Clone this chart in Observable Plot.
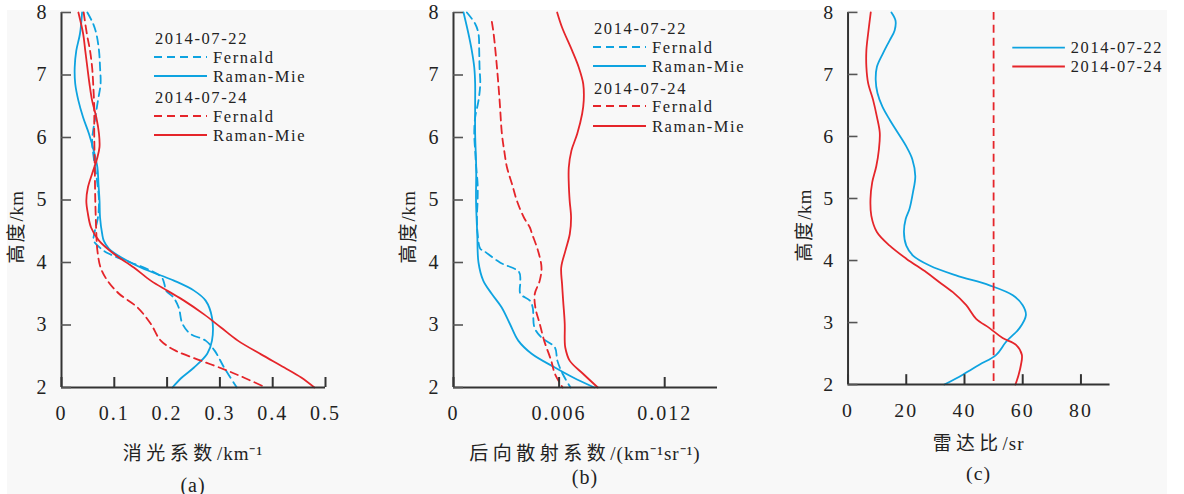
<!DOCTYPE html>
<html><head><meta charset="utf-8">
<script src="https://cdn.jsdelivr.net/npm/d3@7"></script>
<script src="https://cdn.jsdelivr.net/npm/@observablehq/plot@0.6"></script>
<style>
body{margin:0;background:#fff;width:1184px;height:494px;overflow:hidden;position:relative;}
#bg{position:absolute;left:7px;top:10px;width:1160px;height:484px;background:#f8f8f8;}
.panel{position:absolute;top:0;}
</style></head><body>
<div id="bg"></div>
<div id="pa" class="panel" style="left:0px"></div>
<div id="pb" class="panel" style="left:392px"></div>
<div id="pc" class="panel" style="left:787px"></div>
<script>
// ---------- data ----------
const heightTicks = [2, 3, 4, 5, 6, 7, 8];
const aTicks = [0, 0.1, 0.2, 0.3, 0.4, 0.5];
const bTicks = [0, 0.006, 0.012];
const cTicks = [0, 20, 40, 60, 80];
const dates = ["2014-07-22", "2014-07-24"];
const methods = ["Fernald", "Raman-Mie"];
const yTitle = ["高度", "/km"];

// (a) extinction coefficient, km^-1
const aFer22H = [8.0,7.82,7.66,7.39,7.12,6.86,6.59,6.32,5.95,5.68,5.26,4.99,4.72,4.46,4.35,4.22,4.14,4.0,3.87,3.76,3.65,3.55,3.44,3.28,3.02,2.86,2.75,2.59,2.32,2.0];
const aFer22X = [0.049,0.060,0.066,0.071,0.073,0.074,0.069,0.064,0.058,0.061,0.068,0.071,0.069,0.062,0.061,0.075,0.090,0.131,0.169,0.190,0.195,0.198,0.212,0.222,0.229,0.244,0.273,0.290,0.308,0.332];
const aRam22H = [8.0,7.66,7.39,7.12,6.86,6.59,6.32,6.06,5.79,5.52,5.26,4.99,4.72,4.46,4.35,4.22,4.14,3.92,3.71,3.55,3.39,3.12,2.75,2.54,2.32,2.16,2.0];
const aRam22X = [0.039,0.035,0.028,0.025,0.026,0.032,0.041,0.052,0.061,0.068,0.070,0.072,0.073,0.077,0.080,0.090,0.102,0.150,0.213,0.251,0.273,0.285,0.285,0.276,0.251,0.228,0.210];
const aFer24H = [8.0,7.66,7.39,7.12,6.86,6.48,6.06,5.52,4.99,4.46,4.19,3.92,3.71,3.50,3.28,3.02,2.75,2.59,2.43,2.27,2.16,2.0];
const aFer24X = [0.042,0.048,0.054,0.058,0.060,0.062,0.062,0.063,0.064,0.066,0.068,0.074,0.087,0.109,0.144,0.169,0.188,0.216,0.264,0.314,0.345,0.387];
const aRam24H = [8.0,7.66,7.39,7.12,6.86,6.59,6.32,6.06,5.85,5.68,5.42,5.20,4.99,4.78,4.56,4.35,4.14,3.92,3.71,3.55,3.39,3.17,2.96,2.75,2.53,2.32,2.16,2.0];
const aRam24X = [0.032,0.041,0.045,0.049,0.053,0.058,0.066,0.071,0.072,0.068,0.058,0.050,0.047,0.050,0.056,0.071,0.099,0.137,0.169,0.200,0.232,0.270,0.302,0.334,0.378,0.422,0.454,0.479];

// (b) backscatter coefficient, km^-1 sr^-1
const bFer22H = [8.0,7.82,7.66,7.39,7.12,6.86,6.59,6.32,6.06,5.79,5.52,5.26,4.99,4.72,4.46,4.22,4.19,4.0,3.85,3.71,3.50,3.39,3.28,2.96,2.80,2.64,2.43,2.22,2.0];
const bFer22X = [0.00076,0.00123,0.00142,0.00146,0.00148,0.00152,0.00142,0.00123,0.00118,0.00123,0.00129,0.00137,0.00137,0.00133,0.00137,0.00152,0.0017,0.00264,0.00372,0.0038,0.0038,0.00434,0.0045,0.0046,0.0050,0.00576,0.0059,0.0062,0.00665];
const bRam22H = [8.0,7.66,7.39,7.12,6.86,6.59,6.06,5.52,4.99,4.46,4.0,3.71,3.50,3.28,3.02,2.75,2.54,2.32,2.16,2.0];
const bRam22X = [0.00057,0.00085,0.00104,0.00118,0.00123,0.00123,0.00123,0.00129,0.00128,0.00135,0.00142,0.00169,0.00217,0.00274,0.0032,0.00368,0.00444,0.00576,0.0068,0.0080];
const bFer24H = [7.85,7.66,7.12,6.59,6.06,5.79,5.52,5.26,4.99,4.72,4.56,4.46,4.19,3.92,3.71,3.50,3.28,3.02,2.75,2.43,2.22,2.0];
const bFer24X = [0.00218,0.00228,0.00247,0.00262,0.00275,0.00288,0.00304,0.00332,0.0036,0.0040,0.00434,0.00446,0.0048,0.0050,0.0049,0.00462,0.00465,0.0049,0.00515,0.00555,0.00576,0.0062];
const bRam24H = [8.0,7.76,7.39,7.12,6.86,6.59,6.38,6.06,5.79,5.52,5.26,4.99,4.72,4.46,4.19,3.92,3.65,3.39,3.02,2.75,2.64,2.43,2.22,2.0];
const bRam24X = [0.00589,0.00617,0.00674,0.00712,0.00737,0.0074,0.00731,0.00703,0.0067,0.00655,0.00655,0.0066,0.00668,0.00661,0.00636,0.00612,0.00617,0.00623,0.00632,0.00632,0.00635,0.0066,0.00736,0.0082];

// (c) lidar ratio, sr
const c22H = [8.0,7.87,7.71,7.55,7.34,7.12,6.91,6.70,6.48,6.27,6.06,5.84,5.63,5.36,5.10,4.83,4.67,4.46,4.24,4.08,3.92,3.76,3.60,3.44,3.28,3.12,2.91,2.69,2.48,2.32,2.16,2.0];
const c22X = [14.9,16.3,16.0,14.3,12.0,9.9,9.5,10.1,11.8,14.3,17.1,20.0,22.1,23.1,22.3,21.1,19.8,19.2,20.0,22.3,28.0,37.1,48.6,56.6,60.0,61.1,58.9,54.3,50.9,45.1,39.4,33.1];
const c24H = [8.0,7.66,7.39,7.12,6.86,6.59,6.32,6.06,5.79,5.52,5.26,4.99,4.72,4.46,4.24,4.03,3.81,3.65,3.49,3.28,3.06,2.91,2.75,2.64,2.48,2.32,2.16,2.0];
const c24X = [7.8,6.9,6.3,6.3,6.9,8.6,9.9,10.9,10.6,9.7,8.3,7.7,8.0,9.9,14.3,20.0,26.9,31.4,36.0,40.6,44.0,48.6,53.1,57.7,59.7,59.4,58.6,57.5];
const cReference = [50];

// ---------- helpers ----------
const BLUE = "#0ea3e0", RED = "#e5252a", AX = "#333", INK = "#222";
const SERIF = "'Liberation Serif', 'Noto Sans CJK SC', serif";
const W = 400, H = 494, ML = 61, MR = 75, MT = 12, MB = 107;
const PW = W - ML - MR, PH = H - MT - MB;
const pts = (hs, xs) => hs.map((h, i) => ({h, x: xs[i]}));

// parts: [[string, letterSpacing], ...]
function addText(sel, parts, x, y, {size = 19, anchor = "middle", rotate = 0} = {}) {
  const t = sel.append("text")
    .attr("transform", `translate(${x},${y})` + (rotate ? ` rotate(${rotate})` : ""))
    .attr("text-anchor", anchor).attr("dy", "0.35em")
    .attr("font-family", SERIF).attr("font-size", size).attr("fill", INK);
  parts.forEach(([str, sp]) => t.append("tspan").attr("letter-spacing", sp).text(str));
  return t;
}

function panel(el, {xDomain, xTicks, series, extra = [], xLabel, caption, labelY, capY, yTitleX, legend}) {
  const marks = [
    ...series.map(s => Plot.line(pts(s.h, s.x), {x: "x", y: "h", stroke: s.color, strokeWidth: 1.8,
      strokeDasharray: s.dash ? "8,5" : null, curve: "catmull-rom"})),
    ...extra,
    Plot.ruleX([xDomain[0]], {stroke: AX, strokeWidth: 2}),
    Plot.ruleY([heightTicks[0]], {stroke: AX, strokeWidth: 2}),
    Plot.ruleX(xTicks, {x: d => d, insetTop: PH - 10, stroke: AX, strokeWidth: 2}),
    Plot.ruleY(heightTicks, {y: d => d, insetRight: PW - 10, stroke: "#555", strokeWidth: 1.6}),
    Plot.axisX(xTicks, {tickSize: 0, tickPadding: 18, tickFormat: d => String(d), label: null, fill: INK}),
    Plot.axisY(heightTicks, {tickSize: 0, tickPadding: 13, tickFormat: d => String(d), label: null, fill: INK})
  ];
  const svg = Plot.plot({
    width: W, height: H, marginLeft: ML, marginRight: MR, marginTop: MT, marginBottom: MB,
    style: {background: "transparent", overflow: "visible"},
    x: {domain: xDomain, axis: null},
    y: {domain: [heightTicks[0], heightTicks[heightTicks.length - 1]], axis: null},
    marks
  });
  const s = d3.select(svg);
  // tick label typography (only the axis texts exist at this point)
  s.selectAll("text").each(function () { this.parentNode.setAttribute("font-family", SERIF); this.parentNode.setAttribute("font-size", 20); })
    .attr("font-family", SERIF).attr("font-size", 20).attr("letter-spacing", 2)
    .style("font-family", SERIF).style("font-size", "20px");
  const cx = ML + PW / 2;
  // titles
  const t = s.append("g");
  addText(t, [[yTitle[0], 2], [yTitle[1], 0.5]], yTitleX, 227, {size: 19, rotate: -90});
  addText(t, xLabel, cx, labelY, {size: 19});
  addText(t, [[caption, 1]], cx, capY, {size: 20});
  // legend
  const g = s.append("g");
  legend.rows.forEach((r, i) => {
    const y = legend.ys[i];
    if (r.title) {
      addText(g, [[r.title, 1.6]], legend.x0 + 1, y, {size: 16.5, anchor: "start"});
    } else {
      g.append("line").attr("x1", legend.x0).attr("x2", legend.x0 + 53).attr("y1", y).attr("y2", y)
        .attr("stroke", r.color).attr("stroke-width", 1.8).attr("stroke-dasharray", r.dash ? "8,5" : null);
      addText(g, [[r.label, 1.6]], legend.x0 + 59, y, {size: 16.5, anchor: "start"});
    }
  });
  document.getElementById(el).appendChild(svg);
}

const fourRows = [
  {title: dates[0]}, {label: methods[0], color: BLUE, dash: true}, {label: methods[1], color: BLUE},
  {title: dates[1]}, {label: methods[0], color: RED, dash: true}, {label: methods[1], color: RED}
];

panel("pa", {
  xDomain: [0, 0.5], xTicks: aTicks,
  series: [
    {h: aFer22H, x: aFer22X, color: BLUE, dash: true},
    {h: aRam22H, x: aRam22X, color: BLUE},
    {h: aFer24H, x: aFer24X, color: RED, dash: true},
    {h: aRam24H, x: aRam24X, color: RED}
  ],
  xLabel: [["消光系数", 4.5], ["/km⁻¹", 1]], caption: "(a)", labelY: 453, capY: 485, yTitleX: 16,
  legend: {x0: 154, ys: [38, 57, 76, 97, 116, 135], rows: fourRows}
});

panel("pb", {
  xDomain: [0, 0.015], xTicks: bTicks,
  series: [
    {h: bFer22H, x: bFer22X, color: BLUE, dash: true},
    {h: bRam22H, x: bRam22X, color: BLUE},
    {h: bFer24H, x: bFer24X, color: RED, dash: true},
    {h: bRam24H, x: bRam24X, color: RED}
  ],
  xLabel: [["后向散射系数", 4.5], ["/(km⁻¹sr⁻¹)", 1]], caption: "(b)", labelY: 453, capY: 477, yTitleX: 16,
  legend: {x0: 201, ys: [28, 47, 66, 88, 106, 126], rows: fourRows}
});

panel("pc", {
  xDomain: [0, 90], xTicks: cTicks,
  series: [
    {h: c22H, x: c22X, color: BLUE},
    {h: c24H, x: c24X, color: RED}
  ],
  extra: [Plot.ruleX(cReference, {x: d => d, stroke: RED, strokeWidth: 1.8, strokeDasharray: "8,5"})],
  xLabel: [["雷达比", 4.5], ["/sr", 1]], caption: "(c)", labelY: 447, capY: 477, yTitleX: 18,
  legend: {x0: 227, ys: [48, 67], rows: [{label: dates[0], color: BLUE}, {label: dates[1], color: RED}]}
});
</script>
</body></html>
